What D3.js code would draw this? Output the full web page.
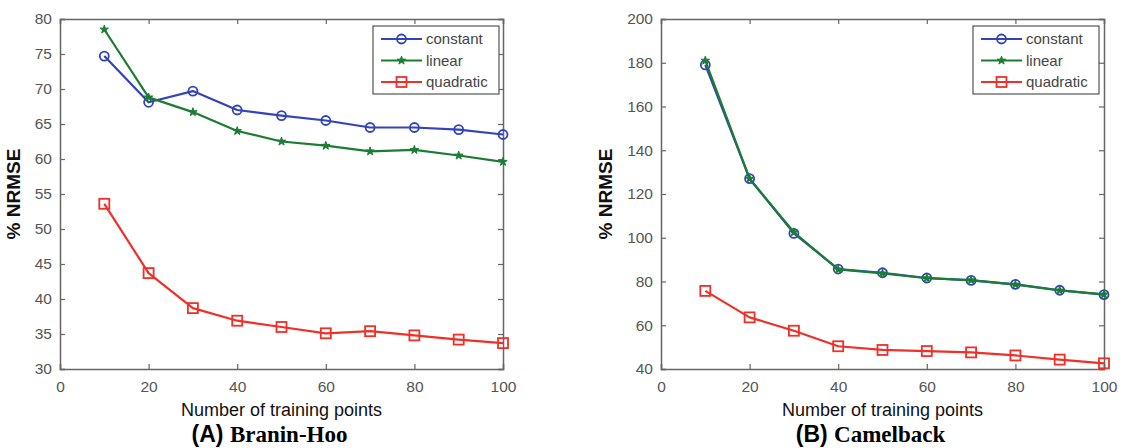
<!DOCTYPE html>
<html lang="en">
<head>
    <meta charset="UTF-8">
    <script src="https://d3js.org/d3.v7.min.js"></script>
    <title>NRMSE vs training points</title>
    <style>
        body { margin: 0; background: #fff; }
        .tick text { font-family: "Liberation Sans", Arial, sans-serif; font-size: 15.5px; fill: #555; }
        .axtitle { font-family: "Liberation Sans", Arial, sans-serif; fill: #111; }
        .legend text { font-family: "Liberation Sans", Arial, sans-serif; font-size: 15px; fill: #444; }
    </style>
</head>
<body>
<svg id="chart" width="1123" height="448"></svg>
<script>
    // data
    var xs = [10, 20, 30, 40, 50, 60, 70, 80, 90, 100];
    var seriesNames = ["constant", "linear", "quadratic"];
    var seriesColors = ["#3344b8", "#1a7d32", "#f03028"];

    var braninConstant  = [74.7, 68.1, 69.7, 67.0, 66.2, 65.5, 64.5, 64.5, 64.2, 63.5];
    var braninLinear    = [78.5, 68.8, 66.7, 64.0, 62.5, 61.9, 61.1, 61.3, 60.5, 59.6];
    var braninQuadratic = [53.6, 43.7, 38.7, 36.9, 36.0, 35.1, 35.4, 34.8, 34.2, 33.7];

    var camelConstant   = [179.0, 127.0, 102.0, 85.7, 84.0, 81.6, 80.5, 78.7, 76.0, 74.0];
    var camelLinear     = [181.0, 127.0, 102.5, 85.5, 83.7, 81.5, 80.6, 78.6, 75.9, 74.1];
    var camelQuadratic  = [75.7, 63.6, 57.5, 50.4, 48.7, 48.2, 47.6, 46.2, 44.3, 42.6];

    var xTicks = [0, 20, 40, 60, 80, 100];
    var braninYTicks = [30, 35, 40, 45, 50, 55, 60, 65, 70, 75, 80];
    var camelYTicks = [40, 60, 80, 100, 120, 140, 160, 180, 200];

    var svg = d3.select("#chart");

    function drawPanel(opts) {
        var w = 443, h = 350;
        var g = svg.append("g").attr("transform", "translate(" + opts.left + "," + opts.top + ")");

        var x = d3.scaleLinear().domain([0, 100]).range([0, w]);
        var y = d3.scaleLinear().domain(opts.yDomain).range([h, 0]);

        // axes with inward ticks (matlab style box)
        var axB = g.append("g").attr("transform", "translate(0," + h + ")")
            .call(d3.axisBottom(x).tickValues(xTicks).tickSize(-5).tickPadding(9));
        var axT = g.append("g")
            .call(d3.axisTop(x).tickValues(xTicks).tickSize(-5).tickFormat(""));
        var axL = g.append("g")
            .call(d3.axisLeft(y).tickValues(opts.yTicks).tickSize(-5).tickPadding(8));
        var axR = g.append("g").attr("transform", "translate(" + w + ",0)")
            .call(d3.axisRight(y).tickValues(opts.yTicks).tickSize(-5).tickFormat(""));
        [axB, axT, axL, axR].forEach(function(a) {
            a.select(".domain").attr("stroke", "#666").attr("stroke-width", 1.5);
            a.selectAll(".tick line").attr("stroke", "#666").attr("stroke-width", 1.2);
        });
        axB.selectAll(".tick text").attr("dy", "0.9em");

        var line = d3.line().x(function(d, i) { return x(xs[i]); }).y(function(d) { return y(d); });

        opts.series.forEach(function(vals, k) {
            g.append("path").datum(vals)
                .attr("fill", "none")
                .attr("stroke", seriesColors[k])
                .attr("stroke-width", 2.2)
                .attr("stroke-linejoin", "round")
                .attr("d", line);
            vals.forEach(function(v, i) {
                drawMarker(g, k, x(xs[i]), y(v));
            });
        });

        // labels
        g.append("text").attr("class", "axtitle")
            .attr("x", w / 2).attr("y", h + 47)
            .attr("text-anchor", "middle")
            .style("font-size", "18px")
            .text("Number of training points");
        g.append("text").attr("class", "axtitle")
            .attr("transform", "translate(" + opts.yLabelX + "," + (h / 2) + ") rotate(-90)")
            .attr("text-anchor", "middle")
            .style("font-size", "19px").style("font-weight", "bold")
            .text("% NRMSE");

        var t = g.append("text")
            .attr("x", w / 2 - 12).attr("y", h + 73)
            .attr("text-anchor", "middle")
            .style("font-size", "23px").style("font-weight", "bold");
        t.append("tspan").style("font-family", "'Liberation Sans', Arial, sans-serif").text(opts.tag + " ");
        t.append("tspan").style("font-family", "'Liberation Serif', 'Times New Roman', serif").text(opts.name);

        // legend
        var lg = g.append("g").attr("class", "legend")
            .attr("transform", "translate(" + opts.legendX + ",7)");
        lg.append("rect").attr("width", 126).attr("height", 68)
            .attr("fill", "#fff").attr("stroke", "#555").attr("stroke-width", 1.2);
        seriesNames.forEach(function(name, k) {
            var yy = 13 + k * 21.5;
            lg.append("line").attr("x1", 8).attr("x2", 49).attr("y1", yy).attr("y2", yy)
                .attr("stroke", seriesColors[k]).attr("stroke-width", 2);
            drawMarker(lg, k, 28.5, yy);
            lg.append("text").attr("x", 53).attr("y", yy).attr("dy", "0.35em").text(name);
        });
    }

    function drawMarker(g, k, cx, cy) {
        var c = seriesColors[k];
        if (k === 0) {
            g.append("circle").attr("cx", cx).attr("cy", cy).attr("r", 4.5)
                .attr("fill", "none").attr("stroke", c).attr("stroke-width", 1.8);
        } else if (k === 1) {
            g.append("path").attr("transform", "translate(" + cx + "," + cy + ")")
                .attr("d", d3.symbol().type(d3.symbolStar).size(22))
                .attr("fill", c).attr("stroke", c).attr("stroke-width", 1);
        } else {
            g.append("rect").attr("x", cx - 5).attr("y", cy - 5).attr("width", 10).attr("height", 10)
                .attr("fill", "none").attr("stroke", c).attr("stroke-width", 1.8);
        }
    }

    drawPanel({
        left: 60, top: 19, yDomain: [30, 80], yTicks: braninYTicks,
        series: [braninConstant, braninLinear, braninQuadratic],
        tag: "(A)", name: "Branin-Hoo", legendX: 313, yLabelX: -40
    });
    drawPanel({
        left: 661, top: 19, yDomain: [40, 200], yTicks: camelYTicks,
        series: [camelConstant, camelLinear, camelQuadratic],
        tag: "(B)", name: "Camelback", legendX: 312, yLabelX: -49
    });
</script>
</body>
</html>
